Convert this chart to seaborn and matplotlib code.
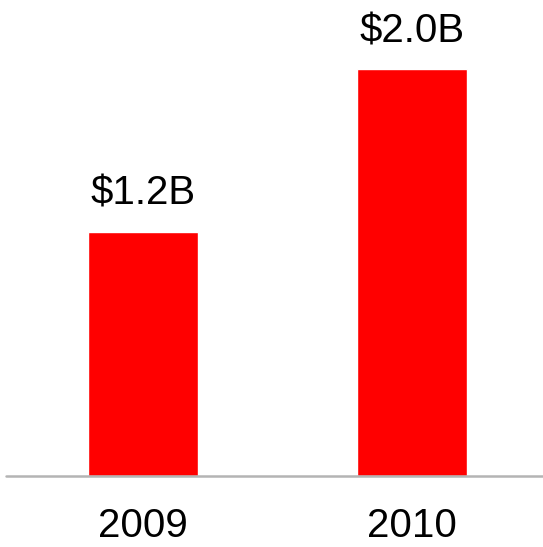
import matplotlib
matplotlib.use("Agg")
import matplotlib.pyplot as plt
import seaborn as sns
import pandas as pd

# Revenue by year (billions of dollars)
years = ["2009", "2010"]
revenue = [1.2, 2.0]
value_labels = ["$1.2B", "$2.0B"]

sns.set_theme(style="white")
plt.rcParams["font.family"] = ["Liberation Sans", "DejaVu Sans"]

df = pd.DataFrame({"year": years, "revenue": revenue})

fig = plt.figure(figsize=(5.43, 5.47), dpi=100)
ax = fig.add_axes([6 / 543, 71 / 547, 537 / 543, 476 / 547])

sns.barplot(data=df, x="year", y="revenue", color="#ff0000", saturation=1,
            width=0.41, ax=ax)

ax.set_xlim(-0.509, 1.487)
ax.set_ylim(0, 2.341)

# value labels above each bar
for i, (v, lab) in enumerate(zip(revenue, value_labels)):
    ax.annotate(lab, xy=(i, v), xytext=(0, 19.5), textcoords="offset points",
                ha="center", va="baseline", fontsize=29, color="black")

# baseline rule
ax.axhline(0, color="#b4b4b4", lw=1.8, zorder=3, clip_on=False)

for s in ax.spines.values():
    s.set_visible(False)
ax.set_yticks([])
ax.set_xlabel("")
ax.set_ylabel("")
ax.tick_params(axis="x", length=0, pad=44, labelsize=29, labelcolor="black")
for t in ax.get_xticklabels():
    t.set_va("baseline")

fig.savefig("out.png", dpi=100)
